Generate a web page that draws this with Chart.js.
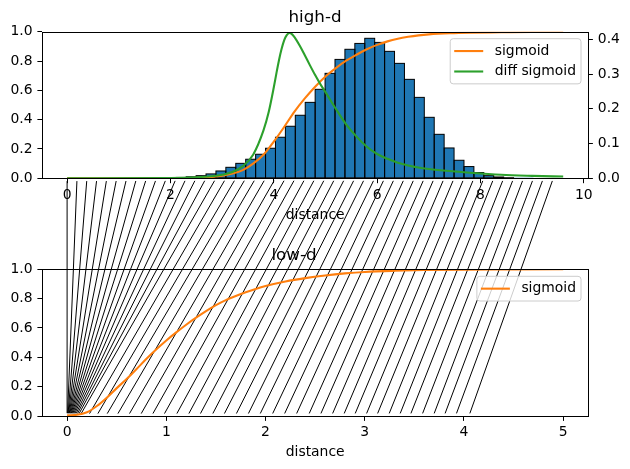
<!DOCTYPE html>
<html>
<head>
<meta charset="utf-8">
<title>high-d / low-d</title>
<script src="https://cdn.jsdelivr.net/npm/chart.js@4.4.1/dist/chart.umd.min.js"></script>
<style>
  html, body { margin: 0; padding: 0; background: #fff; }
  #wrap { position: relative; width: 630px; height: 469px; }
  #wrap canvas { position: absolute; left: 0; top: 0; width: 630px; height: 469px; }
</style>
</head>
<body>
<div id="wrap">
  <canvas id="highChart" width="630" height="469"></canvas>
  <canvas id="lowChart" width="630" height="469"></canvas>
</div>
<script>
// --- data ---
const binEdges = [0, 0.192, 0.384, 0.576, 0.768, 0.96, 1.152, 1.344, 1.536, 1.728, 1.92, 2.112, 2.304, 2.496, 2.688,
    2.88, 3.072, 3.264, 3.456, 3.648, 3.84, 4.032, 4.224, 4.416, 4.608, 4.8, 4.992, 5.184, 5.376, 5.568, 5.76,
    5.952, 6.144, 6.336, 6.528, 6.72, 6.912, 7.104, 7.296, 7.488, 7.68, 7.872, 8.064, 8.256, 8.448, 8.64, 8.832,
    9.024, 9.216, 9.408, 9.6];
const histValues = [0.003, 0, 0, 0, 0, 0, 0, 0, 0.002, 0.002, 0.003, 0.006, 0.01, 0.018, 0.03, 0.05, 0.075, 0.102,
    0.13, 0.164, 0.205, 0.28, 0.355, 0.43, 0.518, 0.607, 0.716, 0.811, 0.88, 0.92, 0.955, 0.927, 0.866, 0.784,
    0.675, 0.552, 0.416, 0.30, 0.207, 0.123, 0.08, 0.039, 0.018, 0.009, 0.004, 0.002, 0.001, 0, 0, 0];

const sigmoidHighX = [0, 1, 2, 2.5, 2.8, 3.0, 3.2, 3.4, 3.6, 3.8, 4.0, 4.2, 4.4, 4.6, 4.8, 5.0, 5.2, 5.4, 5.6, 5.8,
    6.0, 6.2, 6.4, 6.6, 6.8, 7.0, 7.4, 7.8, 8.4, 9.0, 9.6];
const sigmoidHighY = [0, 0, 0.001, 0.004, 0.01, 0.018, 0.032, 0.056, 0.1, 0.16, 0.25, 0.35, 0.455, 0.545, 0.625,
    0.695, 0.752, 0.802, 0.843, 0.88, 0.91, 0.934, 0.952, 0.965, 0.975, 0.982, 0.99, 0.994, 0.996, 0.998, 0.999];

const diffSigmoidX = [0, 2.0, 2.5, 2.8, 3.0, 3.2, 3.4, 3.6, 3.8, 3.9, 4.0, 4.05, 4.1, 4.15, 4.2, 4.25, 4.3, 4.35,
    4.4, 4.5, 4.6, 4.7, 4.8, 4.9, 5.0, 5.2, 5.4, 5.6, 5.8, 6.0, 6.2, 6.4, 6.6, 6.8, 7.0, 7.4, 7.8, 8.4, 9.0, 9.6];
const diffSigmoidY = [0, 0.001, 0.003, 0.006, 0.01, 0.018, 0.035, 0.068, 0.138, 0.19, 0.262, 0.302, 0.34, 0.372,
    0.397, 0.412, 0.418, 0.415, 0.406, 0.382, 0.354, 0.325, 0.297, 0.271, 0.248, 0.2, 0.155, 0.12, 0.091, 0.07,
    0.056, 0.045, 0.037, 0.031, 0.027, 0.021, 0.016, 0.01, 0.007, 0.005];

const sigmoidLowX = [0, 0.1, 0.2, 0.3, 0.4, 0.5, 0.6, 0.7, 0.8, 0.9, 1.0, 1.1, 1.2, 1.3, 1.4, 1.5, 1.6, 1.7, 1.8,
    1.9, 2.0, 2.2, 2.4, 2.6, 2.8, 3.0, 3.3, 3.6, 4.0, 4.5, 5.0];
const sigmoidLowY = [0.005, 0.008, 0.025, 0.068, 0.125, 0.19, 0.252, 0.32, 0.39, 0.455, 0.515, 0.57, 0.622, 0.67,
    0.715, 0.756, 0.79, 0.818, 0.843, 0.866, 0.886, 0.917, 0.94, 0.958, 0.972, 0.982, 0.99, 0.995, 0.998, 0.999, 1.0];

// low-d distance where each high-d bin edge ends up
const lowDistances = [0, 0.004, 0.008, 0.012, 0.017, 0.022, 0.028, 0.034, 0.041, 0.049, 0.058, 0.068, 0.08, 0.093,
    0.108, 0.128, 0.212, 0.296, 0.39, 0.498, 0.615, 0.733, 0.851, 0.968, 1.093, 1.214, 1.331, 1.456, 1.573, 1.694,
    1.815, 1.935, 2.06, 2.181, 2.302, 2.429, 2.547, 2.665, 2.782, 2.893, 3.008, 3.119, 3.236, 3.347, 3.455, 3.573,
    3.69, 3.8, 3.915, 4.05];

const highXTicks = [0, 2, 4, 6, 8, 10];
const lowXTicks = [0, 1, 2, 3, 4, 5];
const leftYTicks = [0, 0.2, 0.4, 0.6, 0.8, 1.0];
const rightYTicks = [0, 0.1, 0.2, 0.3, 0.4];

document.addEventListener('DOMContentLoaded', function() {
    Chart.defaults.font.family = "'DejaVu Sans', sans-serif";
    Chart.defaults.font.size = 13.9;
    Chart.defaults.color = '#000';

    const ORANGE = '#ff7f0e';
    const GREEN = '#2ca02c';
    const BLUE = '#1f77b4';
    const tickFont = { size: 13.9 };

    const toPoints = (xs, ys) => xs.map((x, i) => ({ x: x, y: ys[i] }));

    // an axis in matplotlib look: outward ticks, no grid
    function axis(extra, ticks, fmt, pad, fit) {
        return Object.assign({
            type: 'linear',
            offset: false,
            border: { display: false },
            grid: { drawOnChartArea: false, drawTicks: true, tickLength: 4.9, tickColor: '#000', offset: false },
            ticks: { font: tickFont, color: '#000', autoSkip: false, maxRotation: 0, padding: pad, callback: fmt },
            afterBuildTicks: s => { s.ticks = ticks.map(v => ({ value: v })); },
            afterFit: fit
        }, extra);
    }

    // black frame round the plot area
    const framePlugin = {
        id: 'frame',
        afterDatasetsDraw: chart => {
            const a = chart.chartArea;
            const ctx = chart.ctx;
            ctx.save();
            ctx.strokeStyle = '#000';
            ctx.lineWidth = 1;
            ctx.strokeRect(Math.round(a.left) + 0.5, Math.round(a.top) + 0.5,
                Math.round(a.right) - Math.round(a.left), Math.round(a.bottom) - Math.round(a.top));
            ctx.restore();
        }
    };

    // black outline on every histogram bar, stroked on its edges like matplotlib
    const barEdgePlugin = {
        id: 'barEdge',
        afterDatasetDraw: (chart, args) => {
            if (args.index !== 0) return;
            const ctx = chart.ctx;
            ctx.save();
            ctx.strokeStyle = '#000';
            ctx.lineWidth = 1;
            args.meta.data.forEach(bar => {
                const p = bar.getProps(['x', 'y', 'width', 'base'], true);
                if (p.base - p.y < 0.05) return;
                ctx.strokeRect(p.x - p.width / 2, p.y, p.width, p.base - p.y);
            });
            ctx.restore();
        }
    };

    // matplotlib-like legend in the upper right of the plot area
    const boxLegendPlugin = {
        id: 'boxLegend',
        afterDraw: chart => {
            const items = chart.data.datasets.filter(d => d.type === 'line')
                .sort((a, b) => a.legendIndex - b.legendIndex);
            const ctx = chart.ctx;
            const a = chart.chartArea;
            ctx.save();
            ctx.font = "13.9px 'DejaVu Sans'";
            const textW = Math.max.apply(null, items.map(d => ctx.measureText(d.label).width));
            const w = 4 + 29 + 11.5 + textW + 5;
            const h = 11.2 + items.length * 13.5 + (items.length - 1) * 6.95;
            const x = a.right - 7 - w;
            const y = a.top + 7;
            ctx.beginPath();
            ctx.roundRect(x, y, w, h, 3);
            ctx.fillStyle = 'rgba(255, 255, 255, 0.8)';
            ctx.fill();
            ctx.strokeStyle = '#cccccc';
            ctx.lineWidth = 1;
            ctx.stroke();
            items.forEach((d, k) => {
                const cy = y + 5.6 + 6.75 + k * 20.45;
                ctx.strokeStyle = d.borderColor;
                ctx.lineWidth = 2.1;
                ctx.beginPath();
                ctx.moveTo(x + 4, cy);
                ctx.lineTo(x + 33, cy);
                ctx.stroke();
                ctx.fillStyle = '#000';
                ctx.textAlign = 'left';
                ctx.textBaseline = 'middle';
                ctx.fillText(d.label, x + 44.5, cy);
            });
            ctx.restore();
        }
    };

    const lineStyle = { type: 'line', pointRadius: 0, borderWidth: 2.1, fill: false, cubicInterpolationMode: 'monotone' };

    // --- high-d ---
    const highChart = new Chart(document.getElementById('highChart'), {
        type: 'bar',
        data: {
            datasets: [
                {
                    type: 'bar',
                    label: 'hist',
                    data: histValues.map((v, i) => ({ x: (binEdges[i] + binEdges[i + 1]) / 2, y: v })),
                    backgroundColor: BLUE,
                    borderWidth: 0,
                    barPercentage: 1,
                    categoryPercentage: 1,
                    inflateAmount: 0,
                    yAxisID: 'y',
                    order: 3
                },
                Object.assign({
                    label: 'sigmoid',
                    data: toPoints(sigmoidHighX, sigmoidHighY),
                    borderColor: ORANGE,
                    yAxisID: 'y',
                    order: 2,
                    legendIndex: 0
                }, lineStyle),
                Object.assign({
                    label: 'diff sigmoid',
                    data: toPoints(diffSigmoidX, diffSigmoidY),
                    borderColor: GREEN,
                    yAxisID: 'y1',
                    order: 1,
                    legendIndex: 1
                }, lineStyle)
            ]
        },
        options: {
            responsive: false,
            animation: false,
            events: [],
            layout: { padding: { left: 0, right: 0, top: 0, bottom: 240.7 } },
            plugins: {
                legend: { display: false },
                tooltip: { enabled: false },
                title: {
                    display: true,
                    text: 'high-d',
                    color: '#000',
                    font: { size: 16.7, weight: 'normal' },
                    padding: { top: 7.98, bottom: 3.68 }
                }
            },
            scales: {
                x: axis({
                    min: -0.48, max: 10.08,
                    title: { display: true, text: 'distance', color: '#000', font: tickFont, padding: { top: 0, bottom: 4.4 } }
                }, highXTicks, v => String(v), 3.5, s => { s.height = 50; }),
                y: axis({ position: 'left', min: 0, max: 1 }, leftYTicks, v => v.toFixed(1), 4.9, s => { s.width = 42.3; }),
                y1: axis({ position: 'right', min: 0, max: 0.4219 }, rightYTicks, v => v.toFixed(1), 4.9, s => { s.width = 42; })
            }
        },
        plugins: [barEdgePlugin, framePlugin, boxLegendPlugin]
    });

    // lines from each high-d bin edge down to its low-d distance
    const connectPlugin = {
        id: 'connect',
        beforeDatasetsDraw: chart => {
            const ctx = chart.ctx;
            const hx = highChart.scales.x, hy = highChart.scales.y;
            const lx = chart.scales.x, ly = chart.scales.y;
            ctx.save();
            ctx.strokeStyle = '#000';
            ctx.lineWidth = 1;
            ctx.beginPath();
            lowDistances.forEach((d, i) => {
                const ax = hx.getPixelForValue(binEdges[i]);
                const ay = hy.getPixelForValue(0);
                const bx = lx.getPixelForValue(d);
                const by = ly.getPixelForValue(0);
                const dx = bx - ax, dy = by - ay;
                const s = 2.8 / Math.hypot(dx, dy);
                ctx.moveTo(ax + dx * s, ay + dy * s);
                ctx.lineTo(bx - dx * s, by - dy * s);
            });
            ctx.stroke();
            ctx.restore();
        }
    };

    // --- low-d ---
    new Chart(document.getElementById('lowChart'), {
        type: 'line',
        data: {
            datasets: [
                Object.assign({
                    label: 'sigmoid',
                    data: toPoints(sigmoidLowX, sigmoidLowY),
                    borderColor: ORANGE,
                    legendIndex: 0
                }, lineStyle)
            ]
        },
        options: {
            responsive: false,
            animation: false,
            events: [],
            layout: { padding: { left: 0, right: 42, top: 0, bottom: 3 } },
            plugins: {
                legend: { display: false },
                tooltip: { enabled: false },
                title: {
                    display: true,
                    text: 'low-d',
                    color: '#000',
                    font: { size: 16.7, weight: 'normal' },
                    padding: { top: 245.7, bottom: 3.56 }
                }
            },
            scales: {
                x: axis({
                    min: -0.25, max: 5.25,
                    title: { display: true, text: 'distance', color: '#000', font: tickFont, padding: { top: 0, bottom: 5.3 } }
                }, lowXTicks, v => String(v), 3.5, s => { s.height = 50; }),
                y: axis({ position: 'left', min: 0, max: 1 }, leftYTicks, v => v.toFixed(1), 4.9, s => { s.width = 42.3; })
            }
        },
        plugins: [connectPlugin, framePlugin, boxLegendPlugin]
    });
});
</script>
</body>
</html>
